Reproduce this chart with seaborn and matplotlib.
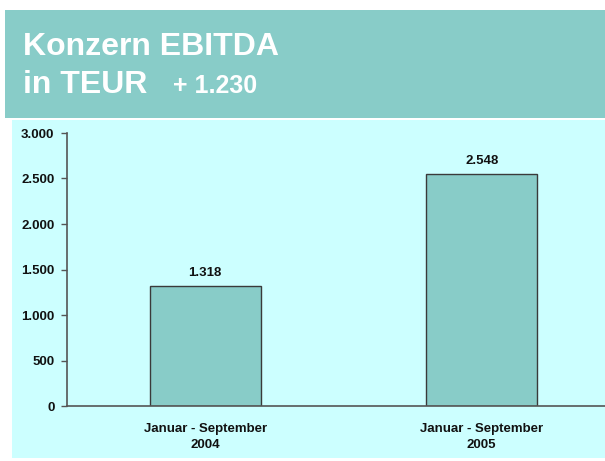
import matplotlib
matplotlib.use("Agg")
import matplotlib.pyplot as plt
import seaborn as sns
import pandas as pd
from matplotlib.patches import Rectangle

# chart data
periods = ["Januar - September\n2004", "Januar - September\n2005"]
ebitda = [1318, 2548]
yticks = [0, 500, 1000, 1500, 2000, 2500, 3000]
delta_text = "+ 1.230"

def de_fmt(v):
    return f"{v:,.0f}".replace(",", ".")

sns.set_theme(style="white")
plt.rcParams['font.family'] = ['Liberation Sans', 'DejaVu Sans']

W, H = 605, 461
fig = plt.figure(figsize=(W / 100, H / 100), dpi=100)
fig.patch.set_facecolor("white")

teal = "#88CCC8"
panel = "#CCFFFF"

# header band and light panel behind the chart
fig.add_artist(Rectangle((5 / W, 1 - 118 / H), 600 / W, 108 / H,
                         transform=fig.transFigure, facecolor=teal, edgecolor="none", zorder=0))
fig.add_artist(Rectangle((12 / W, 1 - 458 / H), 593 / W, 338 / H,
                         transform=fig.transFigure, facecolor=panel, edgecolor="none", zorder=0))

fig.text(23 / W, 1 - 55 / H, "Konzern EBITDA", color="white", fontsize=23, fontweight="bold")
fig.text(23 / W, 1 - 93 / H, "in TEUR", color="white", fontsize=23, fontweight="bold")
fig.text(173 / W, 1 - 93 / H, delta_text, color="white", fontsize=18, fontweight="bold")

ax = fig.add_axes([67 / W, 1 - 406 / H, 1 - 67 / W, 273 / H])
ax.set_facecolor("none")

df = pd.DataFrame({"period": periods, "value": ebitda})
sns.barplot(data=df, x="period", y="value", ax=ax, color=teal, width=0.4,
            edgecolor="#3a3a3a", linewidth=1.0, saturation=1)

for i, v in enumerate(ebitda):
    ax.text(i, v + 110, de_fmt(v), ha="center", va="baseline", fontsize=9.5, fontweight="bold", color="#111")

ax.set_ylim(0, 3000)
ax.set_xlim(-0.5, 1.446)
ax.set_yticks(yticks)
ax.set_yticklabels([de_fmt(t) for t in yticks], fontsize=9.5, fontweight="bold", color="#111")
ax.set_xticklabels(periods, fontsize=9.5, fontweight="bold", color="#111", linespacing=1.5)
ax.set_xlabel("")
ax.set_ylabel("")

for s in ["top", "right"]:
    ax.spines[s].set_visible(False)
for s in ["left", "bottom"]:
    ax.spines[s].set_color("#555555")
    ax.spines[s].set_linewidth(1.2)
ax.tick_params(axis="y", direction="out", length=4, width=1, color="#555555", left=True, pad=5)
ax.tick_params(axis="x", length=0, pad=12)

fig.savefig("out.png", dpi=100, facecolor=fig.get_facecolor())
